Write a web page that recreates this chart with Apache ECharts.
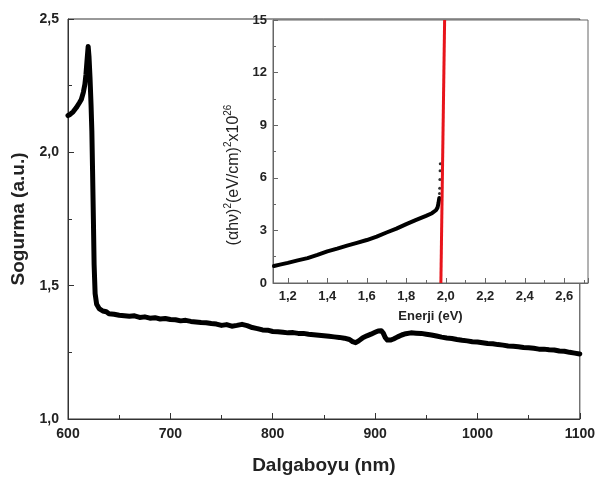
<!DOCTYPE html>
<html>
<head>
<meta charset="utf-8">
<script src="https://cdn.jsdelivr.net/npm/echarts@6/dist/echarts.min.js"></script>
<style>html,body{margin:0;padding:0;background:#fff;overflow:hidden;}#c{width:598px;height:480px;}</style>
</head>
<body>
<div id="c"></div>
<script>
// Main spectrum: wavelength (nm) and absorbance (a.u.)
var wavelength = [600,602,605,608,611,613,615,616.5,617.5,618.5,619.7,620.5,621.5,622.5,623.3,624,624.8,625.5,626.5,628,630.4,634,637.5,640,645,650,655,660,665,670,675,680,685,690,695,700,705,710,715,720,725,730,735,740,745,750,755,760,765,770,775,780,785,790,795,800,805,810,815,820,825,830,835,840,845,850,855,860,865,870,875,878,881,884,888,892,896,900,903,906,908,910,912,915,918,922,926,930,935,940,945,950,955,960,965,970,975,980,985,990,995,1000,1005,1010,1015,1020,1025,1030,1035,1040,1045,1050,1055,1060,1065,1070,1075,1080,1085,1090,1095,1100];
var absorbance = [2.138,2.142,2.152,2.167,2.185,2.198,2.225,2.255,2.29,2.34,2.397,2.36,2.28,2.18,2.08,1.93,1.75,1.58,1.47,1.43,1.414,1.405,1.402,1.395,1.393,1.389,1.387,1.385,1.387,1.381,1.383,1.378,1.380,1.375,1.377,1.373,1.372,1.368,1.370,1.366,1.364,1.362,1.361,1.358,1.356,1.351,1.354,1.348,1.351,1.355,1.350,1.343,1.339,1.334,1.333,1.328,1.327,1.325,1.323,1.324,1.321,1.321,1.318,1.316,1.314,1.312,1.310,1.308,1.306,1.303,1.298,1.290,1.286,1.293,1.305,1.312,1.318,1.325,1.330,1.331,1.322,1.305,1.296,1.296,1.300,1.308,1.315,1.320,1.323,1.322,1.321,1.318,1.315,1.311,1.307,1.304,1.302,1.298,1.295,1.293,1.290,1.289,1.286,1.283,1.282,1.279,1.277,1.274,1.273,1.271,1.268,1.267,1.265,1.262,1.262,1.260,1.259,1.255,1.254,1.250,1.247,1.244];

// Inset: Tauc plot (alpha h nu)^2 vs energy
var energy = [1.13,1.16,1.2,1.25,1.3,1.35,1.4,1.45,1.5,1.55,1.6,1.65,1.7,1.75,1.8,1.85,1.9,1.93,1.95,1.958,1.963,1.967];
var tauc = [0.97,1.05,1.15,1.29,1.42,1.6,1.80,1.96,2.13,2.29,2.45,2.65,2.88,3.1,3.36,3.6,3.83,3.98,4.15,4.3,4.55,4.85];
var scatterEnergy = [1.968,1.969,1.970,1.971,1.972];
var scatterTauc = [5.1,5.4,5.9,6.4,6.8];
// Linear fit (extrapolation) line
var fitEnergy = [1.975,1.994];
var fitTauc = [0,15];

function zip(a,b){var r=[];for(var i=0;i<a.length;i++)r.push([a[i],b[i]]);return r;}
function comma(v,d){return v.toFixed(d).replace('.',',');}

var chart = echarts.init(document.getElementById('c'));
var font = 'Arial, "Liberation Sans", sans-serif';
var mainAxisColor = '#333';
var insetAxisColor = '#666';

chart.setOption({
  animation:false,
  backgroundColor:'#fff',
  grid:[
    {left:68, top:19, width:515, height:402, show:true, borderColor:mainAxisColor, borderWidth:1, backgroundColor:'transparent', z:0},
    {left:273, top:20, width:315, height:263, show:true, borderColor:insetAxisColor, borderWidth:1, backgroundColor:'#fff', z:10}
  ],
  xAxis:[
    {gridIndex:0, type:'value', min:600, max:1100, interval:100,
     axisLine:{show:true, lineStyle:{color:mainAxisColor, width:1}},
     axisTick:{show:true, inside:true, length:6, lineStyle:{color:mainAxisColor}},
     minorTick:{show:true, splitNumber:2, length:4, lineStyle:{color:mainAxisColor}},
     splitLine:{show:false},
     axisLabel:{color:'#222', fontFamily:font, fontWeight:'bold', fontSize:14, margin:8,
       formatter:function(v){return String(v);}},
     name:'Dalgaboyu (nm)', nameLocation:'middle', nameGap:37,
     nameTextStyle:{color:'#222', fontFamily:font, fontWeight:'bold', fontSize:19}},
    {gridIndex:1, type:'value', min:1.125, max:2.72, splitNumber:8, z:11,
     axisLine:{show:true, lineStyle:{color:insetAxisColor, width:1}},
     axisTick:{show:true, inside:true, length:5, lineStyle:{color:insetAxisColor}},
     minorTick:{show:true, splitNumber:2, length:3, lineStyle:{color:insetAxisColor}},
     splitLine:{show:false},
     axisLabel:{color:'#222', fontFamily:font, fontWeight:'bold', fontSize:13, margin:7, showMinLabel:false, showMaxLabel:false,
       formatter:function(v){return comma(v,1);}},
     name:'Enerji (eV)', nameLocation:'middle', nameGap:27,
     nameTextStyle:{color:'#222', fontFamily:font, fontWeight:'bold', fontSize:13}}
  ],
  yAxis:[
    {gridIndex:0, type:'value', min:1.0, max:2.5, interval:0.5,
     axisLine:{show:true, lineStyle:{color:mainAxisColor, width:1}},
     axisTick:{show:true, inside:true, length:6, lineStyle:{color:mainAxisColor}},
     minorTick:{show:true, splitNumber:2, length:4, lineStyle:{color:mainAxisColor}},
     splitLine:{show:false},
     axisLabel:{color:'#222', fontFamily:font, fontWeight:'bold', fontSize:14, margin:9,
       formatter:function(v){return comma(v,1);}},
     name:'Sogurma (a.u.)', nameLocation:'middle', nameGap:36,
     nameTextStyle:{color:'#222', fontFamily:font, fontWeight:'bold', fontSize:19}},
    {gridIndex:1, type:'value', min:0, max:15, interval:3, z:11,
     axisLine:{show:true, lineStyle:{color:insetAxisColor, width:1}},
     axisTick:{show:true, inside:true, length:5, lineStyle:{color:insetAxisColor}},
     minorTick:{show:true, splitNumber:2, length:3, lineStyle:{color:insetAxisColor}},
     splitLine:{show:false},
     axisLabel:{color:'#222', fontFamily:font, fontWeight:'bold', fontSize:13, margin:6},
     name:'(αhν){s|2}(eV/cm){s|2}x10{s|26}', nameLocation:'middle', nameGap:27,
     nameTextStyle:{color:'#222', fontFamily:font, fontSize:16, padding:[0,47,0,0],
       rich:{s:{fontSize:10, fontFamily:font, color:'#222', padding:[0,0,11,0]}}}}
  ],
  series:[
    {type:'line', xAxisIndex:0, yAxisIndex:0, data:zip(wavelength,absorbance), showSymbol:false, symbol:'none',
     lineStyle:{color:'#000', width:5, join:'round', cap:'round'}, z:2},
    {type:'line', xAxisIndex:1, yAxisIndex:1, data:zip(energy,tauc), showSymbol:false, symbol:'none',
     lineStyle:{color:'#000', width:4, cap:'round'}, z:12},
    {type:'scatter', xAxisIndex:1, yAxisIndex:1, data:zip(scatterEnergy,scatterTauc), symbol:'circle', symbolSize:3,
     itemStyle:{color:'#000'}, z:12},
    {type:'line', xAxisIndex:1, yAxisIndex:1, data:zip(fitEnergy,fitTauc), showSymbol:false, symbol:'none',
     lineStyle:{color:'#e8141b', width:3}, z:13}
  ]
});
</script>
</body>
</html>
